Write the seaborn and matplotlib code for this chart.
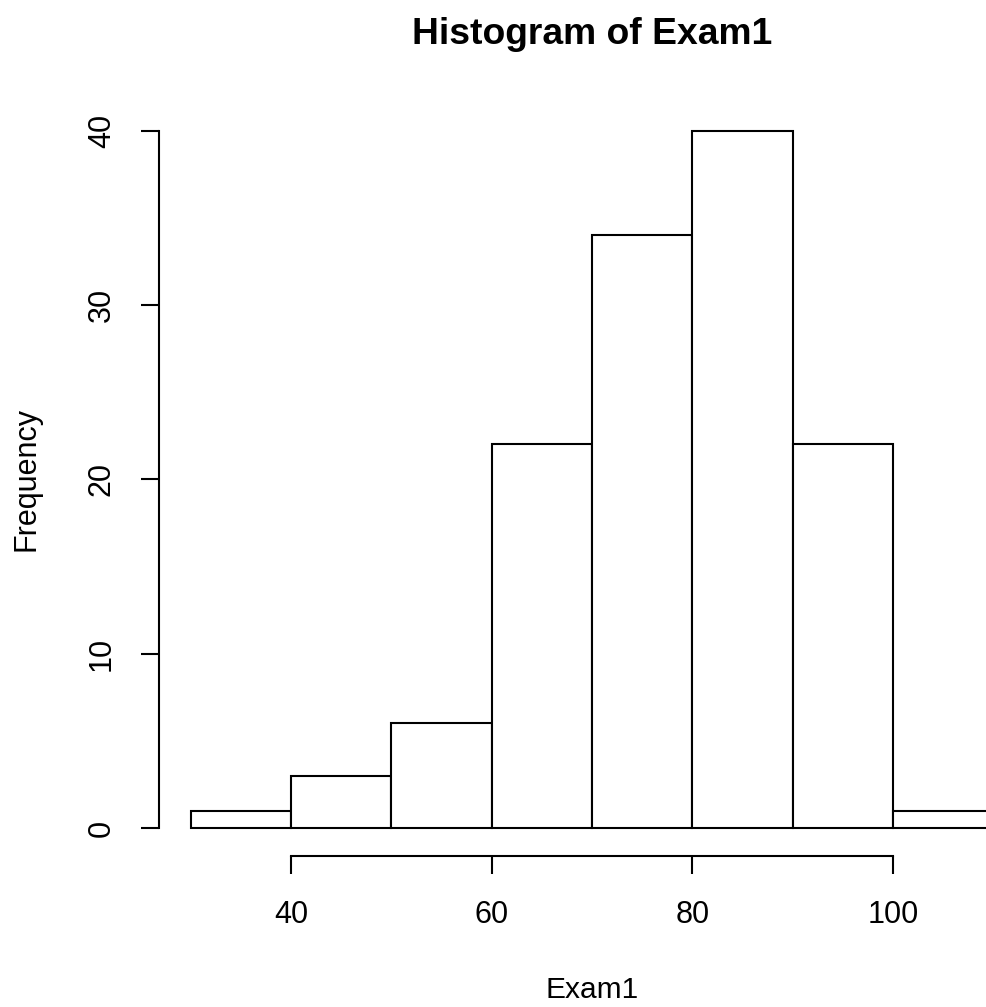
import numpy as np
import matplotlib
matplotlib.use("Agg")
import matplotlib.pyplot as plt
import seaborn as sns

# Histogram of Exam1 (R-style base graphics look)
bin_edges = [30, 40, 50, 60, 70, 80, 90, 100, 110]
counts = [1, 3, 6, 22, 34, 40, 22, 1]
x_ticks = [40, 60, 80, 100]
y_ticks = [0, 10, 20, 30, 40]

bin_mids = [(a + b) / 2 for a, b in zip(bin_edges[:-1], bin_edges[1:])]

sns.set_style("white")
plt.rcParams['font.family'] = ['Liberation Sans', 'DejaVu Sans']
plt.rcParams['text.color'] = 'black'
plt.rcParams['axes.labelcolor'] = 'black'

fig = plt.figure(figsize=(9.87, 10.07), dpi=100)
# plot region as in R: x range extended by 4%, y range extended by 4%
ax = fig.add_axes([0.1607, 0.15, 0.878, 0.748])

sns.histplot(x=bin_mids, weights=counts, bins=bin_edges, ax=ax,
             color="white", edgecolor="black", linewidth=1.5, alpha=1)

span_x = bin_edges[-1] - bin_edges[0]
ax.set_xlim(bin_edges[0] - 0.04 * span_x, bin_edges[-1] + 0.04 * span_x)
ax.set_ylim(-0.04 * max(counts), max(counts) * 1.04)

for s in ['top', 'right']:
    ax.spines[s].set_visible(False)
for s in ['left', 'bottom']:
    ax.spines[s].set_linewidth(1.5)
    ax.spines[s].set_color('black')
ax.spines['left'].set_bounds(y_ticks[0], y_ticks[-1])
ax.spines['bottom'].set_bounds(x_ticks[0], x_ticks[-1])

ax.set_xticks(x_ticks)
ax.set_yticks(y_ticks)
ax.tick_params(axis='both', direction='out', length=13, width=1.5,
               colors='black', labelsize=22, left=True, bottom=True)
ax.tick_params(axis='x', pad=19)
ax.tick_params(axis='y', pad=17)
for lab in ax.get_yticklabels():
    lab.set_rotation(90)
    lab.set_va('center')

ax.set_xlabel("Exam1", fontsize=21.5, color='black', labelpad=33)
ax.set_ylabel("Frequency", fontsize=22, color='black', labelpad=33)
ax.set_title("Histogram of Exam1", fontsize=26.8, fontweight='bold',
             color='black', pad=42)

fig.savefig("out.png", dpi=100, facecolor="white")
